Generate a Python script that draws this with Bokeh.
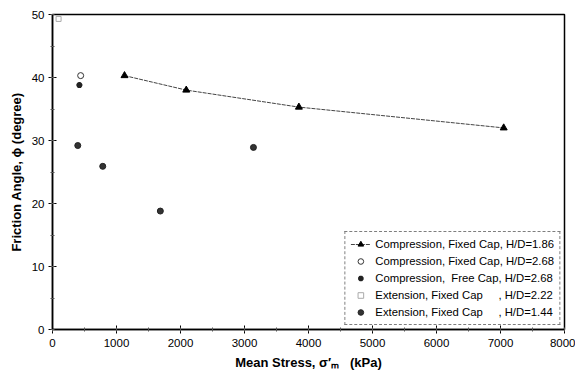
from bokeh.plotting import figure
from bokeh.models import Range1d, SingleIntervalTicker, Legend, LegendItem
from bokeh.embed import file_html
from bokeh.resources import INLINE

# Data
comp_fixed_186_x = [1125, 2090, 3850, 7050]
comp_fixed_186_y = [40.3, 38.0, 35.3, 32.0]
comp_fixed_268_x = [440]
comp_fixed_268_y = [40.3]
comp_free_268_x = [420]
comp_free_268_y = [38.8]
ext_fixed_222_x = [95]
ext_fixed_222_y = [49.3]
ext_fixed_144_x = [395, 785, 1685, 3140]
ext_fixed_144_y = [29.2, 25.9, 18.8, 28.9]

labels = [
    "Compression, Fixed Cap, H/D=1.86",
    "Compression, Fixed Cap, H/D=2.68",
    "Compression,\u00a0 Free Cap, H/D=2.68",
    "Extension, Fixed Cap\u00a0\u00a0\u00a0\u00a0\u00a0, H/D=2.22",
    "Extension, Fixed Cap\u00a0\u00a0\u00a0\u00a0\u00a0, H/D=1.44",
]

FONT = "Liberation Sans"

p = figure(width=575, height=373, output_backend="svg", toolbar_location=None,
           x_range=Range1d(0, 8000), y_range=Range1d(0, 50),
           min_border_left=52, min_border_right=11, min_border_top=14, min_border_bottom=44)
p.xgrid.visible = False
p.ygrid.visible = False
p.outline_line_color = "black"
p.outline_line_width = 1.5
p.background_fill_color = "white"
p.border_fill_color = "white"

p.xaxis.ticker = SingleIntervalTicker(interval=1000, num_minor_ticks=2)
p.yaxis.ticker = SingleIntervalTicker(interval=10, num_minor_ticks=2)
for ax in (p.xaxis[0], p.yaxis[0]):
    ax.axis_line_color = "black"
    ax.axis_line_width = 1.5
    ax.major_tick_line_color = "black"
    ax.major_tick_in = 4
    ax.major_tick_out = 4
    ax.minor_tick_line_color = "#555555"
    ax.minor_tick_in = 2
    ax.minor_tick_out = 2
    ax.major_label_text_font = FONT
    ax.major_label_text_font_size = "11.5px"
    ax.major_label_text_color = "black"
    ax.axis_label_text_font = FONT
    ax.axis_label_text_font_size = "13px"
    ax.axis_label_text_font_style = "bold"
    ax.axis_label_text_color = "black"
p.xaxis.axis_label = "Mean Stress, \u03c3\u2032\u2098\u00a0\u00a0 (kPa)"
p.yaxis.axis_label = "Friction Angle, \u03d5 (degree)"
p.xaxis.axis_label_standoff = 5
p.yaxis.axis_label_standoff = 5
p.xaxis.major_label_standoff = 5
p.yaxis.major_label_standoff = 4

l1 = p.line(comp_fixed_186_x, comp_fixed_186_y, line_color="#444444", line_width=1, line_dash="4 1")
s1 = p.scatter(comp_fixed_186_x, comp_fixed_186_y, marker="triangle", size=7,
               fill_color="black", line_color="black")
s2 = p.scatter(comp_fixed_268_x, comp_fixed_268_y, marker="circle", size=6,
               fill_color="white", line_color="#333333", line_width=1)
s3 = p.scatter(comp_free_268_x, comp_free_268_y, marker="asterisk", size=6,
               line_color="#222222", line_width=2)
s4 = p.scatter(ext_fixed_222_x, ext_fixed_222_y, marker="square", size=5,
               fill_color="white", line_color="#aaaaaa", line_width=1)
s5 = p.scatter(ext_fixed_144_x, ext_fixed_144_y, marker="circle", size=6,
               fill_color="#333333", line_color="#222222")

legend = Legend(items=[
    LegendItem(label=labels[0], renderers=[l1, s1]),
    LegendItem(label=labels[1], renderers=[s2]),
    LegendItem(label=labels[2], renderers=[s3]),
    LegendItem(label=labels[3], renderers=[s4]),
    LegendItem(label=labels[4], renderers=[s5]),
], location="bottom_right")
legend.label_text_font = FONT
legend.label_text_font_size = "11.3px"
legend.label_text_color = "black"
legend.glyph_height = 14
legend.glyph_width = 20
legend.label_height = 14
legend.spacing = 3
legend.label_standoff = 5
legend.padding = 5
legend.margin = 4
legend.border_line_color = "black"
legend.border_line_dash = "2 1"
legend.border_line_width = 1
legend.background_fill_alpha = 1
p.add_layout(legend, "center")

open("out.html", "w").write(file_html(p, INLINE))
